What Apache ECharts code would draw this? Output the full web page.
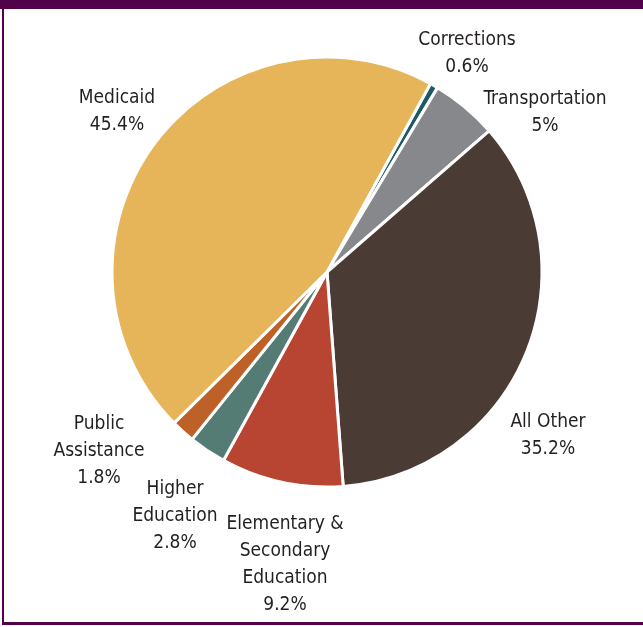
<!DOCTYPE html>
<html>
<head>
<meta charset="utf-8">
<script src="https://cdn.jsdelivr.net/npm/echarts@6/dist/echarts.min.js"></script>
<style>
  html, body { margin: 0; padding: 0; background: #ffffff; }
  #chart { width: 643px; height: 627px; }
</style>
</head>
<body>
<div id="chart"></div>
<script>
// Spending shares, listed clockwise from the Corrections slice
const categories = [
  'Corrections',
  'Transportation',
  'All Other',
  'Elementary &\nSecondary\nEducation',
  'Higher\nEducation',
  'Public\nAssistance',
  'Medicaid'
];
const shares = [0.6, 5, 35.2, 9.2, 2.8, 1.8, 45.4];
const sliceColors = ['#1d5a66', '#87888b', '#4a3b34', '#b84532', '#557b75', '#be6128', '#e6b55a'];

// Where each label block is centred on the page
const labelAnchors = [
  [467, 54], [545, 113], [548, 436], [285, 565], [175, 516], [99, 451], [117, 112]
];

const frameColor = '#51024b';

const chart = echarts.init(document.getElementById('chart'), null, { renderer: 'canvas' });

chart.setOption({
  animation: false,
  graphic: [
    { type: 'rect', shape: { x: 0, y: 0, width: 643, height: 9 }, style: { fill: frameColor } },
    { type: 'rect', shape: { x: 2, y: 0, width: 2, height: 625 }, style: { fill: frameColor } },
    { type: 'rect', shape: { x: 2, y: 622, width: 641, height: 3 }, style: { fill: frameColor } }
  ],
  series: [{
    type: 'pie',
    center: [327, 272],
    radius: 215,
    startAngle: 61.2,
    clockwise: true,
    avoidLabelOverlap: false,
    data: categories.map((name, i) => ({
      name: name,
      value: shares[i],
      itemStyle: { color: sliceColors[i] }
    })),
    itemStyle: { borderColor: '#ffffff', borderWidth: 3 },
    label: {
      show: true,
      position: 'outside',
      formatter: '{b}\n{c}%',
      fontFamily: '"Liberation Sans Narrow", "DejaVu Sans Condensed", Roboto, sans-serif',
      fontSize: 19,
      lineHeight: 27,
      color: '#231f20',
      align: 'center'
    },
    labelLine: { show: false },
    labelLayout: function (params) {
      const p = labelAnchors[params.dataIndex];
      return { x: p[0], y: p[1], align: 'center', verticalAlign: 'middle' };
    },
    emphasis: { disabled: true }
  }]
});
</script>
</body>
</html>
